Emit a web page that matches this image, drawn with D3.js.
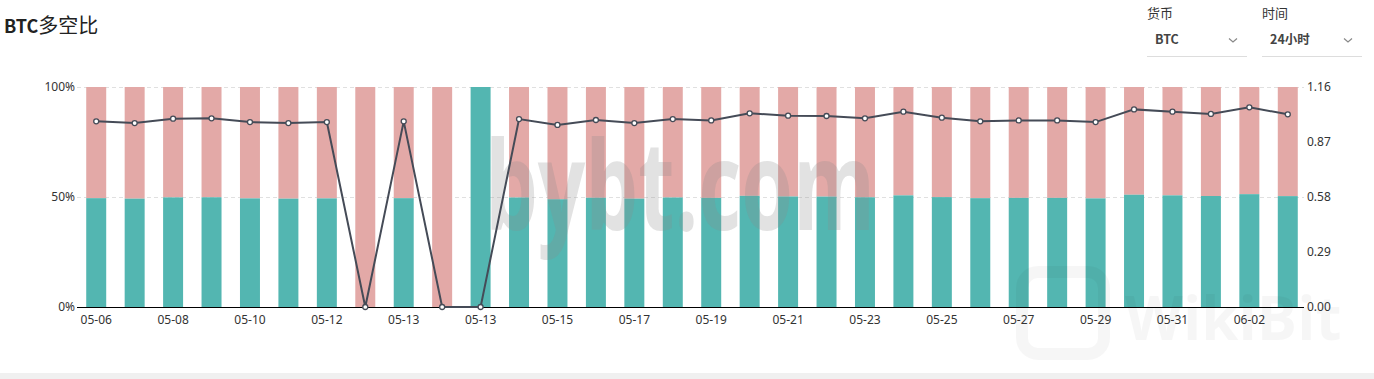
<!DOCTYPE html>
<html><head><meta charset="utf-8">
<script src="https://cdn.jsdelivr.net/npm/d3@7"></script>
<style>
html,body{margin:0;padding:0;background:#fff;}
svg{display:block;}
</style></head>
<body>
<svg id="c" width="1374" height="379"></svg>
<script>
const categories = ["05-06","05-07","05-08","05-09","05-10","05-11","05-12","05-13","05-13","05-13","05-13","05-14","05-15","05-16","05-17","05-18","05-19","05-20","05-21","05-22","05-23","05-24","05-25","05-26","05-27","05-28","05-29","05-30","05-31","06-01","06-02","06-03"];
const longPct = [49.47,49.24,49.82,49.87,49.37,49.24,49.37,0,49.47,0,100,49.77,48.98,49.65,49.24,49.77,49.60,50.52,50.22,50.17,49.87,50.74,49.95,49.47,49.60,49.60,49.37,51.03,50.74,50.45,51.29,50.40];
const shortPct = [50.53,50.76,50.18,50.13,50.63,50.76,50.63,100,50.53,100,0,50.23,51.02,50.35,50.76,50.23,50.40,49.48,49.78,49.83,50.13,49.26,50.05,50.53,50.40,50.40,50.63,48.97,49.26,49.55,48.71,49.60];
const ratio = [0.979,0.970,0.993,0.995,0.975,0.970,0.975,0,0.979,0,0,0.991,0.960,0.986,0.970,0.991,0.984,1.021,1.009,1.007,0.995,1.030,0.998,0.979,0.984,0.984,0.975,1.042,1.030,1.018,1.053,1.016];
const leftTicks = [0,50,100];
const rightTicks = [0,0.29,0.58,0.87,1.16];

const svg = d3.select("#c");
const L = 77, R = 1307, T = 87, B = 307;
const x = d3.scaleBand().domain(d3.range(categories.length)).range([L,R]).paddingInner(0.48).paddingOuter(0.24);
const yL = d3.scaleLinear().domain([0,100]).range([B,T]);
const yR = d3.scaleLinear().domain([0,1.16]).range([B,T]);
const font = "'Noto Sans','Open Sans',sans-serif";

// bottom band
svg.append("rect").attr("x",0).attr("y",373).attr("width",1374).attr("height",6).attr("fill","#f0f0f0");

// title
const title = svg.append("text").attr("x",4).attr("y",33).attr("font-size",18).attr("fill","#222")
  .attr("font-family","'Noto Sans CJK SC','Noto Sans',sans-serif");
title.append("tspan").attr("font-weight",700).text("BTC");
title.append("tspan").attr("font-weight",400).attr("font-size",20).text("多空比");

// dropdowns
function dropdown(x0, label, value){
  svg.append("text").attr("x",x0).attr("y",18).attr("font-size",13).attr("fill","#333")
    .attr("font-family","'Noto Sans CJK SC',sans-serif").text(label);
  svg.append("text").attr("x",x0+8).attr("y",44).attr("font-size",12.5).attr("font-weight",700).attr("fill","#444")
    .attr("font-family","'Noto Sans CJK SC','Noto Sans',sans-serif").text(value);
  svg.append("path").attr("d",`M${x0+82},38.5 L${x0+86},42 L${x0+90},38.5`).attr("fill","none").attr("stroke","#888").attr("stroke-width",1.2);
  svg.append("line").attr("x1",x0).attr("x2",x0+100).attr("y1",56.5).attr("y2",56.5).attr("stroke","#ddd");
}
dropdown(1147,"货币","BTC");
dropdown(1262,"时间","24小时");

// gridlines
svg.append("g").selectAll("line").data(leftTicks.filter(d=>d>0)).join("line")
  .attr("x1",L).attr("x2",R-3).attr("y1",d=>Math.round(yL(d))+0.5).attr("y2",d=>Math.round(yL(d))+0.5)
  .attr("stroke","#e0e0e0").attr("stroke-dasharray","4,3");

// bars
const bars = svg.append("g");
bars.selectAll("rect.s").data(categories).join("rect").attr("class","s")
  .attr("x",(d,i)=>x(i)).attr("width",x.bandwidth())
  .attr("y",(d,i)=>yL(longPct[i]+shortPct[i])).attr("height",(d,i)=>yL(longPct[i])-yL(longPct[i]+shortPct[i]))
  .attr("fill","#e3a9a7");
bars.selectAll("rect.l").data(categories).join("rect").attr("class","l")
  .attr("x",(d,i)=>x(i)).attr("width",x.bandwidth())
  .attr("y",(d,i)=>yL(longPct[i])).attr("height",(d,i)=>B-yL(longPct[i]))
  .attr("fill","#53b6b1");

// watermarks
svg.append("text").attr("x",485).attr("y",230).attr("font-size",124).attr("font-weight",700)
  .attr("font-family","'Open Sans','Noto Sans',sans-serif").attr("textLength",390).attr("lengthAdjust","spacingAndGlyphs")
  .attr("fill","rgba(140,140,140,0.25)").text("bybt.com");
svg.append("text").attr("x",1125).attr("y",340).attr("font-size",60).attr("font-weight",700)
  .attr("font-family","'Open Sans',sans-serif").attr("fill","rgba(0,0,0,0.035)").text("WikiBit");
svg.append("rect").attr("x",1022).attr("y",272).attr("width",82).attr("height",82).attr("rx",16)
  .attr("fill","none").attr("stroke","rgba(0,0,0,0.035)").attr("stroke-width",12);

// x axis line
svg.append("line").attr("x1",L).attr("x2",R-3).attr("y1",B+0.5).attr("y2",B+0.5).attr("stroke","#000").attr("stroke-width",1.2);

// axes labels
svg.append("g").selectAll("text").data(leftTicks).join("text")
  .attr("x",75).attr("y",d=>yL(d)+4).attr("text-anchor","end").attr("font-size",12).attr("fill","#333")
  .attr("font-family",font).text(d=>d+"%");
svg.append("g").selectAll("text").data(rightTicks).join("text")
  .attr("x",R).attr("y",d=>yR(d)+4).attr("text-anchor","start").attr("font-size",12).attr("fill","#333")
  .attr("font-family",font).text(d=>d.toFixed(2));
svg.append("g").selectAll("text").data(categories.map((c,i)=>[c,i]).filter(d=>d[1]%2===0)).join("text")
  .attr("x",d=>x(d[1])+x.bandwidth()/2).attr("y",324).attr("text-anchor","middle").attr("font-size",12).attr("fill","#333")
  .attr("font-family",font).text(d=>d[0]);

// ratio line
const line = d3.line().x((d,i)=>x(i)+x.bandwidth()/2).y(d=>yR(d));
svg.append("path").datum(ratio).attr("d",line).attr("fill","none").attr("stroke","#454b57").attr("stroke-width",2);
svg.append("g").selectAll("circle").data(ratio).join("circle")
  .attr("cx",(d,i)=>x(i)+x.bandwidth()/2).attr("cy",d=>yR(d)).attr("r",2.5)
  .attr("fill","#fff").attr("stroke","#454b57").attr("stroke-width",1.3);
</script>
</body></html>
